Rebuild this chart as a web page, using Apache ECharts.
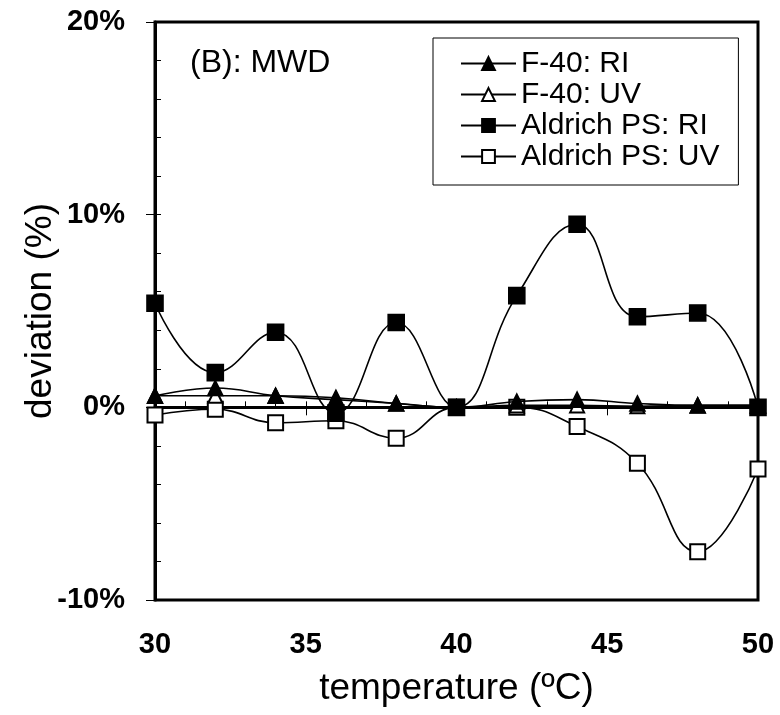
<!DOCTYPE html>
<html>
<head>
<meta charset="utf-8">
<script src="https://cdn.jsdelivr.net/npm/echarts@6/dist/echarts.min.js"></script>
<style>
  html, body { margin: 0; padding: 0; background: #fff; }
  #chart { width: 780px; height: 715px; }
</style>
</head>
<body>
<div id="chart"></div>
<script>
// Temperature steps (ºC)
const temperatures = [30, 32, 34, 36, 38, 40, 42, 44, 46, 48, 50];

// Deviation of MWD relative to 40 ºC, in percent
const f40RI       = [0.6, 1.0, 0.6, 0.4, 0.2, 0.0, 0.3, 0.4, 0.2, 0.1, 0.1];
const f40UV       = [0.6, 0.6, 0.6, 0.5, 0.2, 0.0, 0.1, 0.1, 0.05, 0.1, 0.1];
const aldrichRI   = [5.4, 1.8, 3.9, -0.3, 4.4, 0.0, 5.8, 9.5, 4.7, 4.9, 0.0];
const aldrichUV   = [-0.4, -0.1, -0.8, -0.7, -1.6, 0.0, 0.0, -1.0, -2.9, -7.5, -3.2];

const seriesNames = ['F-40: RI', 'F-40: UV', 'Aldrich PS: RI', 'Aldrich PS: UV'];
const panelTitle = '(B): MWD';
const xAxisTitle = 'temperature (ºC)';
const yAxisTitle = 'deviation (%)';

const FONT = '"Liberation Sans", Arial, sans-serif';

function pairs(values) {
  return temperatures.map((t, i) => [t, values[i]]);
}

function lineSeries(name, values, symbol, size, z) {
  return {
    name: name,
    type: 'line',
    data: pairs(values),
    smooth: 0.45,
    symbol: symbol,
    symbolSize: size,
    showAllSymbol: true,
    z: z,
    lineStyle: { color: '#000', width: 1.6 },
    itemStyle: { color: '#000', borderColor: '#000', borderWidth: 1.6 },
    emphasis: { disabled: true },
    animation: false
  };
}

const chart = echarts.init(document.getElementById('chart'), null, { renderer: 'canvas' });

chart.setOption({
  backgroundColor: '#fff',
  animation: false,
  textStyle: { fontFamily: FONT },
  title: {
    text: panelTitle,
    left: 185,
    top: 42,
    textStyle: { fontFamily: FONT, fontSize: 32, fontWeight: 'normal', color: '#000' }
  },
  legend: {
    data: seriesNames,
    orient: 'vertical',
    left: 433,
    top: 38,
    padding: [10, 19, 13, 27],
    itemWidth: 55,
    itemHeight: 16,
    itemGap: 0,
    backgroundColor: '#fff',
    borderColor: '#000',
    borderWidth: 1,
    borderRadius: 0,
    textStyle: { fontFamily: FONT, fontSize: 30, color: '#000', lineHeight: 31 }
  },
  grid: {
    left: 155, right: 22, top: 22, bottom: 115,
    outerBoundsMode: 'none',
    containLabel: false,
    show: true, borderColor: '#000', borderWidth: 3, backgroundColor: 'transparent'
  },
  xAxis: [
    {
      type: 'value', min: 30, max: 50, interval: 5,
      name: xAxisTitle, nameLocation: 'middle', nameGap: 70, nameMoveOverlap: false,
      nameTextStyle: { fontFamily: FONT, fontSize: 37, color: '#000' },
      axisLine: { show: true, lineStyle: { color: '#000', width: 3 } },
      axisTick: { show: true, inside: false, length: 8, lineStyle: { color: '#000', width: 1 } },
      axisLabel: { margin: 30, fontFamily: FONT, fontSize: 29, fontWeight: 'bold', color: '#000' },
      splitLine: { show: false }
    },
    {
      type: 'value', min: 30, max: 50, interval: 1, position: 'bottom',
      axisLine: { show: false },
      axisTick: { show: true, inside: true, length: 6, lineStyle: { color: '#000', width: 1 } },
      axisLabel: { show: false },
      splitLine: { show: false }
    }
  ],
  yAxis: [
    {
      type: 'value', min: -10, max: 20, interval: 10,
      name: yAxisTitle, nameLocation: 'middle', nameGap: 96, nameRotate: 90, nameMoveOverlap: false,
      nameTextStyle: { fontFamily: FONT, fontSize: 37, color: '#000' },
      axisLine: { show: true, lineStyle: { color: '#000', width: 3 } },
      axisTick: { show: true, inside: false, length: 9, lineStyle: { color: '#000', width: 1 } },
      axisLabel: {
        margin: 30, fontFamily: FONT, fontSize: 29, fontWeight: 'bold', color: '#000',
        formatter: v => v + '%'
      },
      splitLine: { show: false }
    },
    {
      type: 'value', min: -10, max: 20, interval: 2, position: 'left',
      axisLine: { show: false },
      axisTick: { show: true, inside: true, length: 6, lineStyle: { color: '#000', width: 1 } },
      axisLabel: { show: false },
      splitLine: { show: false }
    }
  ],
  series: [
    lineSeries(seriesNames[0], f40RI, 'triangle', 15, 4),
    lineSeries(seriesNames[1], f40UV, 'emptyTriangle', 14, 3),
    lineSeries(seriesNames[2], aldrichRI, 'rect', 16, 5),
    lineSeries(seriesNames[3], aldrichUV, 'emptyRect', 15, 2)
  ]
});
</script>
</body>
</html>
